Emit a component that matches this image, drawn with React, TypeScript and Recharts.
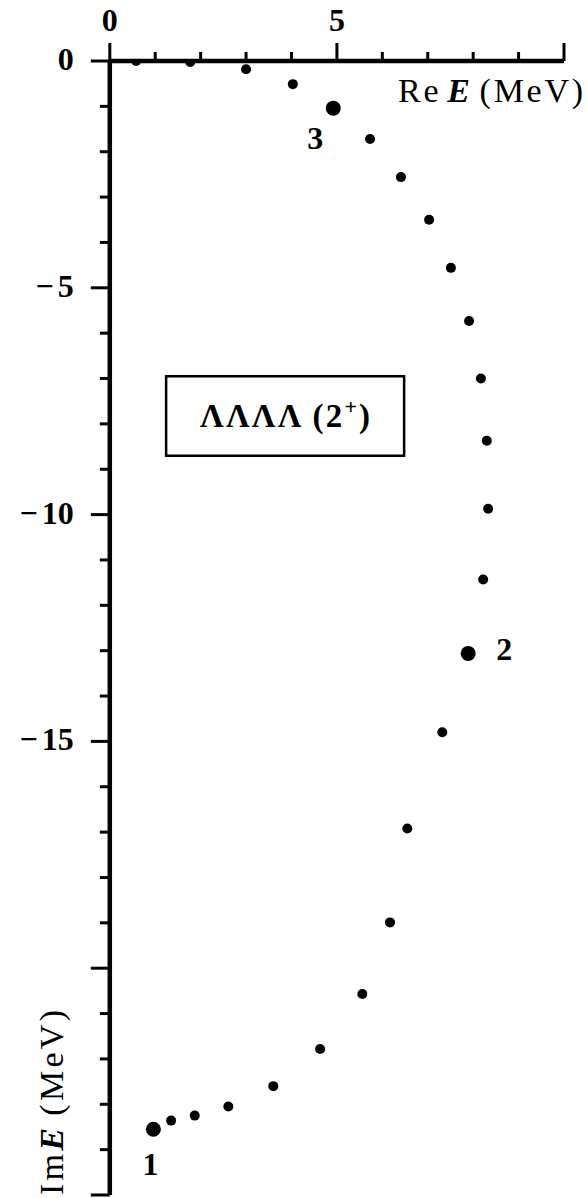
import React from 'react';
import { ScatterChart, Scatter, XAxis, YAxis, ReferenceArea, Label } from 'recharts';

// ---- data ----
const smallRe = [0.58, 1.77, 3.0, 4.03, 5.73, 6.41, 7.03, 7.51, 7.91, 8.17, 8.3, 8.33, 8.22, 7.32, 6.55, 6.17, 5.56, 4.63, 3.6, 2.61, 1.87, 1.35];
const smallIm = [0.0, -0.02, -0.18, -0.51, -1.72, -2.56, -3.5, -4.56, -5.73, -7.0, -8.37, -9.87, -11.43, -14.8, -16.92, -18.99, -20.57, -21.78, -22.6, -23.05, -23.25, -23.36];
const resRe = [0.96, 7.89, 4.92];
const resIm = [-23.55, -13.06, -1.04];
const resLabels = ['1', '2', '3'];
const resLabelSide = ['below', 'right', 'belowLeft'];

const xTicks = [0, 1, 2, 3, 4, 5, 6, 7, 8, 9, 10];
const xTickLabels = [0, 5];
const yTicks = [0, -1, -2, -3, -4, -5, -6, -7, -8, -9, -10, -11, -12, -13, -14, -15, -16, -17, -18, -19, -20, -21, -22, -23, -24, -25];
const yTickLabels = [0, -5, -10, -15];

const systemName = 'ΛΛΛΛ';
const spinValue = '2';
const parity = '+';
const legendBoxRe = [1.24, 6.48];
const legendBoxIm = [-8.7, -6.95];

// ---- styling ----
const FONT = '"Liberation Serif", "DejaVu Serif", serif';
const W = 587;
const H = 1198;
const MARGIN = { top: 21, right: 23, bottom: 3, left: 9.8 };
const XAXIS_H = 40;
const YAXIS_W = 100;
const TICK_FONT = 32;

const smallPts = smallRe.map((re, i) => ({ re, im: smallIm[i] }));
const resPts = resRe.map((re, i) => ({ re, im: resIm[i], label: resLabels[i], side: resLabelSide[i] }));

const XTick = (props: any) => {
  const { x, y, payload } = props;
  const v = payload.value;
  const major = v % 5 === 0;
  const len = major ? 18 : 9;
  return (
    <g>
      <line x1={x} x2={x} y1={y} y2={y - len} stroke="#000" strokeWidth={3} />
      {xTickLabels.includes(v) && (
        <text x={x} y={y - 30} textAnchor="middle" fontFamily={FONT} fontWeight="bold" fontSize={TICK_FONT} fill="#000">
          {String(v)}
        </text>
      )}
    </g>
  );
};

const YTick = (props: any) => {
  const { x, y, payload } = props;
  const v = payload.value;
  const major = v % 5 === 0;
  const len = major ? 19 : 10;
  return (
    <g>
      <line x1={x} x2={x - len} y1={y} y2={y} stroke="#000" strokeWidth={3} />
      {yTickLabels.includes(v) && (
        <text x={x - 36} y={y + 9} textAnchor="end" fontFamily={FONT} fontWeight="bold" fontSize={TICK_FONT} fill="#000">
          {v < 0 ? (
            <>
              <tspan>{'\u2212'}</tspan>
              <tspan dx={4}>{Math.abs(v)}</tspan>
            </>
          ) : (
            String(v)
          )}
        </text>
      )}
    </g>
  );
};

const SmallDot = (props: any) => <circle cx={props.cx} cy={props.cy} r={5} fill="#000" />;

const sideOffset: Record<string, [number, number]> = {
  below: [-3, 35],
  right: [36, -4],
  belowLeft: [-18, 30],
};

const ResDot = (props: any) => {
  const { cx, cy, payload } = props;
  const [dx, dy] = sideOffset[payload.side] || [0, 30];
  return (
    <g>
      <circle cx={cx} cy={cy} r={7.5} fill="#000" />
      <text x={cx + dx} y={cy + dy + 11} textAnchor="middle" fontFamily={FONT} fontWeight="bold" fontSize={32} fill="#000">
        {payload.label}
      </text>
    </g>
  );
};

const ReLabel = (props: any) => {
  const vb = props.viewBox || {};
  const axisY = (vb.y ?? MARGIN.top) + (vb.height ?? XAXIS_H);
  const right = (vb.x ?? MARGIN.left + YAXIS_W) + (vb.width ?? 0);
  return (
    <text
      x={right + 19}
      y={axisY + 41}
      textAnchor="end"
      fontFamily={FONT}
      fontSize={34}
      fill="#000"
      textLength={185}
      lengthAdjust="spacing"
    >
      <tspan>Re</tspan>
      <tspan dx={6} fontWeight="bold" fontStyle="italic">E</tspan>
      <tspan dx={7}>(MeV)</tspan>
    </text>
  );
};

const ImLabel = (props: any) => {
  const vb = props.viewBox || {};
  const bottom = (vb.y ?? 61) + (vb.height ?? 0);
  const x = 63;
  return (
    <text
      x={x}
      y={bottom}
      transform={`rotate(-90, ${x}, ${bottom})`}
      textAnchor="start"
      fontFamily={FONT}
      fontSize={34}
      fill="#000"
      textLength={185}
      lengthAdjust="spacing"
    >
      <tspan>Im</tspan>
      <tspan fontWeight="bold" fontStyle="italic">E</tspan>
      <tspan dx={9}>(MeV)</tspan>
    </text>
  );
};

const BoxLabel = (props: any) => {
  const vb = props.viewBox || {};
  const cx = vb.x + vb.width / 2;
  const cy = vb.y + vb.height / 2;
  return (
    <text
      x={cx}
      y={cy + 11}
      textAnchor="middle"
      fontFamily={FONT}
      fontWeight="bold"
      fontSize={33}
      fill="#000"
      textLength={170}
      lengthAdjust="spacing"
    >
      <tspan>{systemName}</tspan>
      <tspan dx={9}>({spinValue}</tspan>
      <tspan dy={-13} fontSize={22}>{parity}</tspan>
      <tspan dy={13}>)</tspan>
    </text>
  );
};

export default function App() {
  return (
    <div style={{ position: 'absolute', left: 0, top: 0, width: W, height: H, background: '#fff' }}>
      <ScatterChart width={W} height={H} margin={MARGIN}>
        <XAxis
          type="number"
          dataKey="re"
          orientation="top"
          domain={[0, 10]}
          ticks={xTicks}
          interval={0}
          height={XAXIS_H}
          allowDataOverflow
          axisLine={{ stroke: '#000', strokeWidth: 4.5 }}
          tickLine={false}
          tickSize={0}
          tickMargin={0}
          tick={<XTick />}
        >
          <Label content={<ReLabel />} />
        </XAxis>
        <YAxis
          type="number"
          dataKey="im"
          domain={[-25, 0]}
          ticks={yTicks}
          interval={0}
          width={YAXIS_W}
          allowDataOverflow
          axisLine={{ stroke: '#000', strokeWidth: 4.5 }}
          tickLine={false}
          tickSize={0}
          tickMargin={0}
          tick={<YTick />}
        >
          <Label content={<ImLabel />} />
        </YAxis>
        <ReferenceArea
          x1={legendBoxRe[0]}
          x2={legendBoxRe[1]}
          y1={legendBoxIm[0]}
          y2={legendBoxIm[1]}
          fill="none"
          fillOpacity={0}
          stroke="#000"
          strokeWidth={2.5}
          label={<BoxLabel />}
        />
        <Scatter data={smallPts} shape={<SmallDot />} isAnimationActive={false} />
        <Scatter data={resPts} shape={<ResDot />} isAnimationActive={false} />
      </ScatterChart>
    </div>
  );
}
